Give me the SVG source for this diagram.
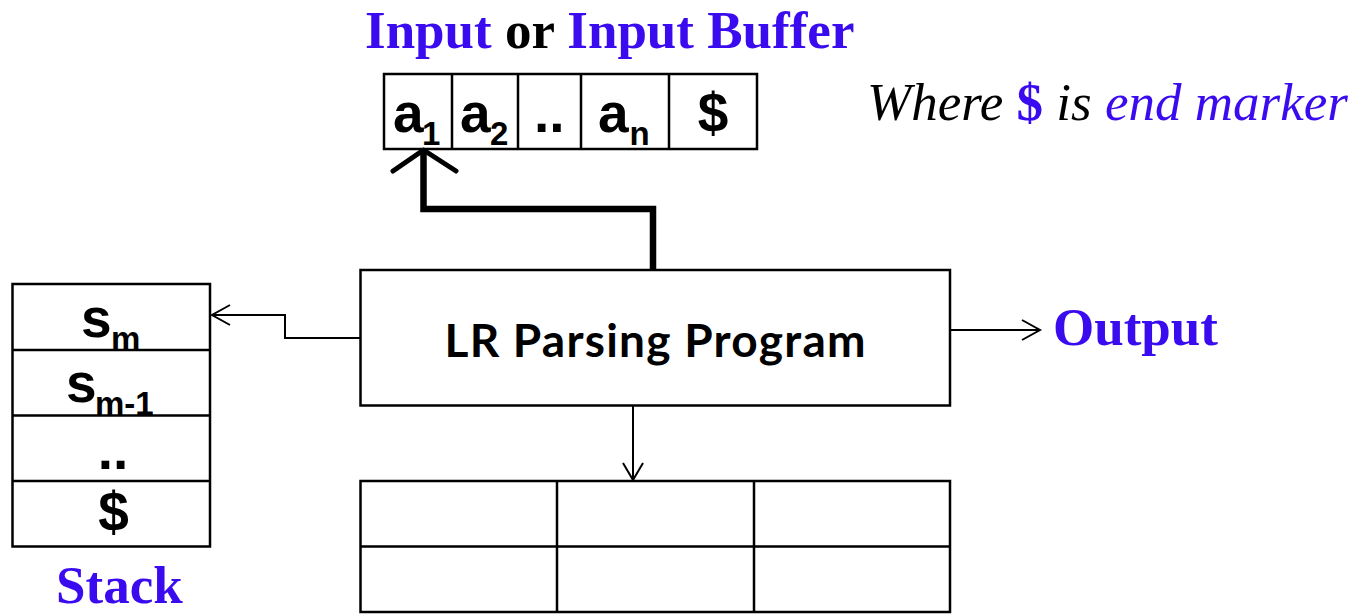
<svg xmlns="http://www.w3.org/2000/svg" width="1361" height="615" viewBox="0 0 1361 615">
  <defs>
    <style>
      .box { fill: #ffffff; stroke: #000000; stroke-width: 2.5; }
      .grid { stroke: #000000; stroke-width: 2.5; fill: none; }
      .thin { stroke: #000000; stroke-width: 2; fill: none; }
      .head { stroke: #000000; stroke-width: 2; fill: none; stroke-linejoin: miter; }
      .sym { font-family: "Liberation Sans", Arial, sans-serif; font-weight: bold; fill: #000000; }
      .big { font-size: 55px; }
      .sub { font-size: 33px; }
      .serif { font-family: "Liberation Serif", "Times New Roman", serif; font-size: 53px; }
      .blue { fill: #3A0BEF; }
      .black { fill: #000000; }
      .prog { font-family: Lato, "Open Sans", sans-serif; font-weight: bold; font-size: 46px; fill: #000000; }
    </style>
  </defs>

  <rect width="1361" height="615" fill="#ffffff"/>

  <!-- titles and captions -->
  <text id="title" class="serif" x="365" y="47.5" font-weight="bold"><tspan class="blue">Input</tspan><tspan class="black"> or </tspan><tspan class="blue">Input Buffer</tspan></text>
  <text id="note" class="serif" x="867" y="120" font-style="italic"><tspan class="black">Where </tspan><tspan class="blue" font-weight="bold" font-style="normal">$</tspan><tspan class="black"> is </tspan><tspan class="blue">end marker</tspan></text>

  <!-- input buffer -->
  <g id="input-buffer">
    <rect class="box" x="384" y="74" width="373" height="75"/>
    <path class="grid" d="M452,74 V149 M518,74 V149 M581,74 V149 M669,74 V149"/>
    <text class="sym big" x="393" y="132">a</text>
    <text class="sym sub" x="422" y="145">1</text>
    <text class="sym big" x="460" y="132">a</text>
    <text class="sym sub" x="490" y="145">2</text>
    <text class="sym big" x="534" y="132">..</text>
    <text class="sym big" x="598" y="132">a</text>
    <text class="sym sub" x="629.5" y="145">n</text>
    <text class="sym big" x="713" y="132" text-anchor="middle">$</text>
  </g>

  <!-- stack -->
  <g id="stack">
    <rect class="box" x="12.5" y="284" width="197.5" height="262.5"/>
    <path class="grid" d="M12.5,350 H210 M12.5,415.5 H210 M12.5,481 H210"/>
    <text class="sym big" x="81" y="337">s</text>
    <text class="sym sub" x="111" y="350">m</text>
    <text class="sym big" x="66" y="402">s</text>
    <text class="sym sub" x="95" y="415">m-1</text>
    <text class="sym big" x="113" y="469" text-anchor="middle">..</text>
    <text class="sym big" x="113.5" y="531" text-anchor="middle">$</text>
    <text class="serif blue" x="56" y="603" font-weight="bold">Stack</text>
  </g>

  <!-- parser program -->
  <g id="program">
    <rect class="box" x="360.5" y="270" width="589.5" height="135.5"/>
    <text class="prog" x="655" y="357" text-anchor="middle" textLength="421">LR Parsing Program</text>
  </g>

  <!-- parsing table -->
  <g id="table">
    <rect class="box" x="360.5" y="481" width="589.5" height="131"/>
    <path class="grid" d="M557,481 V612 M754,481 V612 M360.5,546.5 H950"/>
  </g>

  <!-- output label -->
  <g id="output">
    <text class="serif blue" x="1053" y="345" font-weight="bold">Output</text>
  </g>

  <!-- connectors -->
  <g id="connectors">
    <!-- program to input pointer -->
    <path d="M653,270 V209 H423.5 V153" fill="none" stroke="#000" stroke-width="6.5" stroke-linejoin="miter"/>
    <polyline points="393,171 423.5,150 456,171" fill="none" stroke="#000" stroke-width="5" stroke-linejoin="round" stroke-linecap="round"/>
    <!-- program to stack -->
    <path class="thin" d="M360,338 H285 V315 H212"/>
    <polyline class="head" points="230,305 212,315 230,325"/>
    <!-- program to output -->
    <path class="thin" d="M950,330 H1039"/>
    <polyline class="head" points="1022,320 1040,330 1022,340"/>
    <!-- program to table -->
    <path class="thin" d="M633,405 V479"/>
    <polyline class="head" points="623,463 633,480 643,463"/>
  </g>
</svg>
